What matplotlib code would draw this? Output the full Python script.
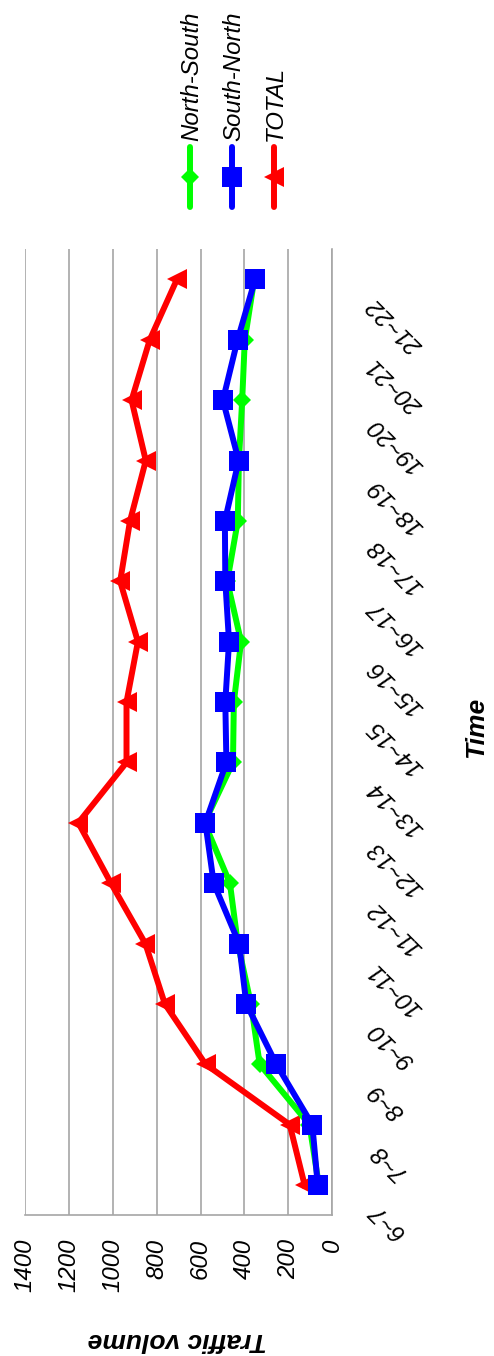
import matplotlib
matplotlib.use("Agg")
import matplotlib.pyplot as plt
import matplotlib.transforms as mtransforms
from matplotlib.lines import Line2D
import numpy as np

plt.rcParams['font.family'] = ['Liberation Sans', 'DejaVu Sans']

categories = ['6~7', '7~8', '8~9', '9~10', '10~11', '11~12', '12~13', '13~14',
              '14~15', '15~16', '16~17', '17~18', '18~19', '19~20', '20~21', '21~22']
north_south = [60, 103, 330, 370, 430, 466, 582, 452, 448, 415, 478, 430, 425, 410, 398, 355]
south_north = [65, 90, 254, 391, 424, 540, 578, 482, 487, 470, 487, 489, 426, 498, 431, 351]
total = [125, 193, 577, 763, 852, 1009, 1158, 938, 938, 886, 967, 922, 850, 915, 832, 708]
value_ticks = [0, 200, 400, 600, 800, 1000, 1200, 1400]

W, H = 494, 1356
DPI = 100
fig = plt.figure(figsize=(W / DPI, H / DPI), dpi=DPI)

left_px, right_px, top_px, bottom_px = 25.3, 332.0, 249.3, 1215.2
ax = fig.add_axes([left_px / W, 1 - bottom_px / H, (right_px - left_px) / W, (bottom_px - top_px) / H])

pos = np.arange(len(categories))
grid_c = '#a6a6a6'

lw = 4.3
ax.plot(total, pos, color='#ff0000', lw=lw, marker='<', ms=15, mew=0, zorder=3)
ax.plot(north_south, pos, color='#00ff00', lw=lw, marker='D', ms=9.5, mew=0, zorder=4)
ax.plot(south_north, pos, color='#0000ff', lw=lw, marker='s', ms=15, mew=0, zorder=5)

ax.set_xlim(1400, 0)
ax.set_ylim(-0.5, len(categories) - 0.5)
ax.set_xticks(value_ticks)
ax.set_xticklabels([str(v) for v in value_ticks], rotation=90, fontstyle='italic', fontsize=17.3)
ax.tick_params(axis='x', length=0, pad=17)
ax.set_yticks([])
ax.grid(axis='x', color=grid_c, lw=1.2, zorder=0)
for s in ['top', 'left']:
    ax.spines[s].set_visible(False)
ax.spines['right'].set_color(grid_c)
ax.spines['bottom'].set_color(grid_c)
ax.spines['right'].set_linewidth(1.2)
ax.spines['bottom'].set_linewidth(1.2)

# category labels
trans = mtransforms.blended_transform_factory(ax.transAxes, ax.transData) + \
    mtransforms.ScaledTranslation(32 / DPI, -14 / DPI, fig.dpi_scale_trans)
for i, c in enumerate(categories):
    ax.text(1, pos[i], c, transform=trans, rotation=135, ha='left', va='top',
            fontstyle='italic', fontsize=17.3, clip_on=False)

# axis titles
fig.text(177.5 / W, 1 - 1340 / H, 'Traffic volume', rotation=180, ha='center', va='center',
         fontweight='bold', fontstyle='italic', fontsize=19)
fig.text(476 / W, 1 - 727 / H, 'Time', rotation=90, ha='center', va='center',
         fontweight='bold', fontstyle='italic', fontsize=19)

# legend
legend_items = [('North-South', '#00ff00', 'D', 9.5, 190),
                ('South-North', '#0000ff', 's', 15, 232),
                ('TOTAL', '#ff0000', '<', 15, 274)]
for label, color, mk, ms, xp in legend_items:
    xf = xp / W
    ln = Line2D([xf, xf, xf], [1 - 207 / H, 1 - 177 / H, 1 - 147 / H], transform=fig.transFigure,
                color=color, lw=lw, marker=mk, ms=ms, mew=0, markevery=[1],
                solid_capstyle='round')
    fig.add_artist(ln)
    fig.text((xp + 1.5) / W, 1 - 141 / H, label, rotation=90, ha='center', va='bottom',
             fontstyle='italic', fontsize=17.3)

fig.savefig('out.png', dpi=DPI)
